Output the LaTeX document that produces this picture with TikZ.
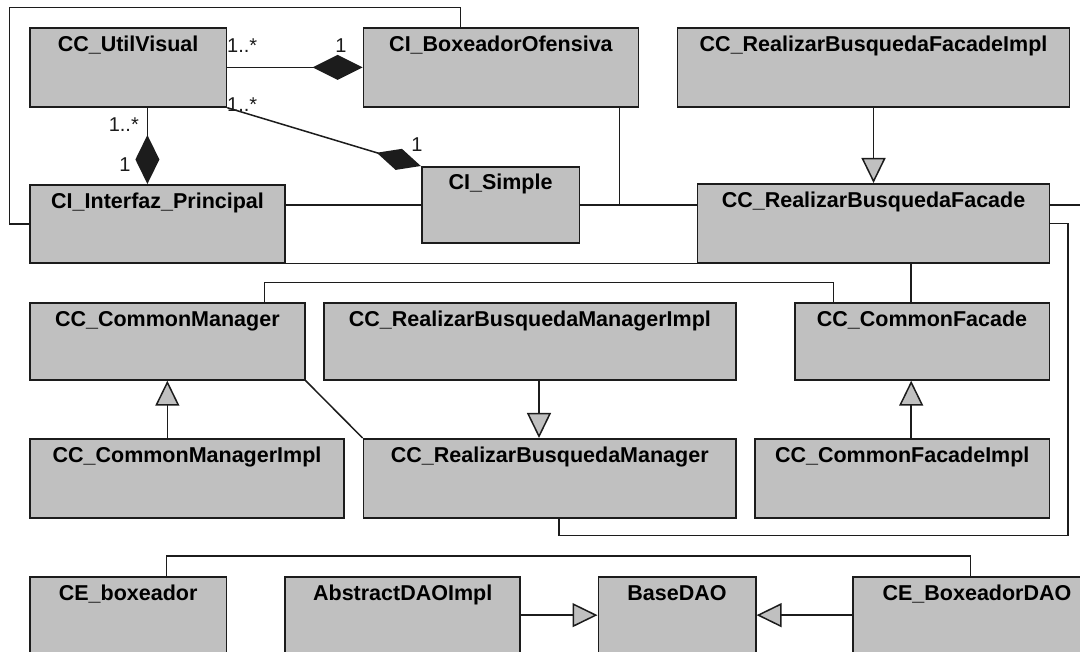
\documentclass[tikz,border=0pt]{standalone}
\usepackage{fontspec}
\setmainfont{Liberation Sans}
\usetikzlibrary{arrows.meta}
\definecolor{boxgray}{HTML}{C0C0C0}
\definecolor{ink}{HTML}{1C1C1C}
\begin{document}
\begin{tikzpicture}[x=1pt,y=-1pt,
  classbox/.style={draw=ink, line width=1.7pt, fill=boxgray, anchor=north west,
    inner xsep=0pt, inner ysep=0pt, text height=24pt, text depth=55pt,
    font=\fontsize{21.5}{24}\selectfont\bfseries},
  conn/.style={draw=ink, line width=1.5pt},
  gen/.style={conn, -{Triangle[length=25pt,width=24pt,fill=boxgray]}},
  lab/.style={font=\fontsize{20}{24}\selectfont, inner sep=0pt, text=ink}]

\path[use as bounding box] (0,0) rectangle (1080,652);
\clip (0,0) rectangle (1080,652);
\fill[white] (0,0) rectangle (1080,652);

% classes, top row
\node[classbox, minimum width=196.5pt] (util) at (29,27) {CC\_UtilVisual};
\node[classbox, minimum width=275pt] (boxeo) at (362.6,27) {CI\_BoxeadorOfensiva};
\node[classbox, minimum width=392pt] (fimpl) at (676.7,27) {CC\_RealizarBusquedaFacadeImpl};
% second row
\node[classbox, minimum width=255.4pt, text depth=54pt] (interfaz) at (29,184) {CI\_Interfaz\_Principal};
\node[classbox, minimum width=157.8pt, text height=23pt, text depth=53pt] (simple) at (420.8,166) {CI\_Simple};
\node[classbox, minimum width=352pt] (facade) at (696.7,183) {CC\_RealizarBusquedaFacade};
% managers and facades
\node[classbox, minimum width=275pt, text depth=53pt] (cmgr) at (29,302) {CC\_CommonManager};
\node[classbox, minimum width=412.2pt, text depth=53pt] (rbmi) at (323,302) {CC\_RealizarBusquedaManagerImpl};
\node[classbox, minimum width=254.8pt, text depth=53pt] (cfac) at (793.8,302) {CC\_CommonFacade};
\node[classbox, minimum width=314.3pt] (cmi) at (29,438) {CC\_CommonManagerImpl};
\node[classbox, minimum width=372.6pt] (rbm) at (362.6,438) {CC\_RealizarBusquedaManager};
\node[classbox, minimum width=294.4pt] (cfi) at (754.2,438) {CC\_CommonFacadeImpl};
% persistence row
\node[classbox, minimum width=196.5pt, text depth=52.6pt] (ceb) at (29,576) {CE\_boxeador};
\node[classbox, minimum width=234.9pt, text depth=52.6pt] (adao) at (284.4,576) {AbstractDAOImpl};
\node[classbox, minimum width=157.4pt, text depth=52.6pt] (base) at (597.5,576) {BaseDAO};
\node[classbox, minimum width=247.7pt, text depth=52.6pt] (cedao) at (852.3,576) {CE\_BoxeadorDAO};

% connector anchor points
\coordinate (ux) at ([xshift=118.4pt]util.south west);
\coordinate (bt) at ([xshift=98.1pt]boxeo.north west);
\coordinate (bx) at ([xshift=-20pt]boxeo.south east);
\coordinate (lp) at (9.3,7.3);
\coordinate (rc) at (1068,535.7);
\coordinate (rx) at ([xshift=196.4pt]rbm.south west);
\coordinate (rbx) at ([xshift=216pt]rbmi.south west);
\coordinate (cfx) at ([xshift=117.4pt]cfac.south west);
\coordinate (mx) at ([xshift=235.5pt]cmgr.north west);
\coordinate (fx) at ([xshift=39.9pt]cfac.north west);
\coordinate (ex) at ([xshift=137.7pt]ceb.north west);
\coordinate (dx) at ([xshift=118.1pt]cedao.north west);

% compositions
\draw[conn, -{Diamond[length=50pt,width=25pt]}] (util.east) -- (boxeo.west);
\draw[conn, -{Diamond[length=46pt,width=22pt]}] (util.south east) -- (simple.north west);
\draw[conn, -{Diamond[length=49pt,width=24pt]}] (ux) -- (ux |- interfaz.north);

% multiplicities
\node[lab, anchor=base west] (m1) at (227,53) {1..*};
\node[lab, anchor=base] (m2) at (341,53) {1};
\node[lab, anchor=base west] (m3) at (227,112) {1..*};
\node[lab, anchor=base] (m4) at (417,152) {1};
\node[lab, anchor=base east] (m5) at (139,132) {1..*};
\node[lab, anchor=base] (m6) at (125,172) {1};

% associations
\draw[conn] (interfaz.west) -| (lp) -| (bt);
\draw[conn] (interfaz.east |- simple.west) -- (simple.west);
\draw[conn] (interfaz.south east) -- (facade.south west);
\draw[conn] (simple.east) -- (simple.east -| facade.west);
\draw[conn] (bx) |- (simple.east -| facade.west);
\draw[conn] (simple.east -| facade.east) -- ++(45,0);
\draw[conn] (facade.east) -| (rc) -| (rx);
\draw[conn] (cfx |- facade.south) -- (cfx |- cfac.north);
\draw[conn] (mx) -- ++(0,-19.4) -| (fx);
\draw[conn] (cmgr.south east) -- (rbm.north west);
\draw[conn] (ex) -- ++(0,-20) -| (dx);

% generalizations
\draw[gen] (fimpl.south) -- (facade.north);
\draw[gen] (cmgr.south |- cmi.north) -- (cmgr.south);
\draw[gen] (rbx) -- (rbx |- rbm.north);
\draw[gen] (cfx |- cfi.north) -- (cfx);
\draw[gen] (adao.east) -- (base.west);
\draw[gen] (cedao.west) -- (base.east);
\end{tikzpicture}
\end{document}
